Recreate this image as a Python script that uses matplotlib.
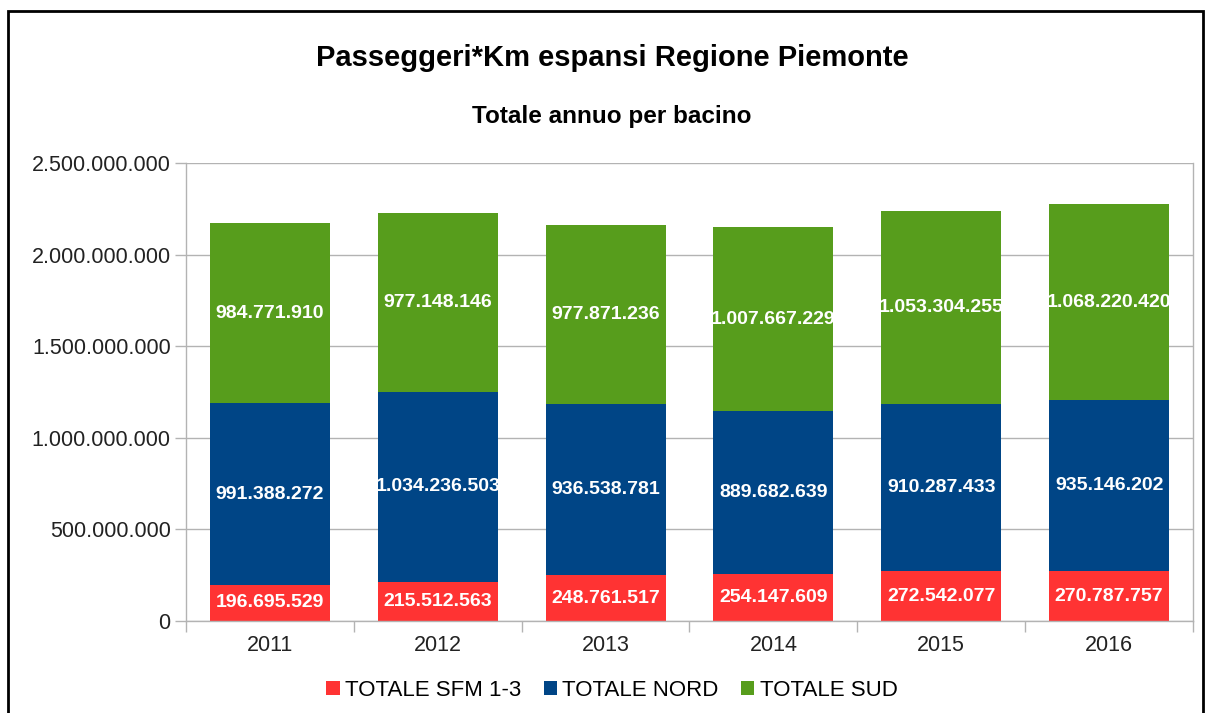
import matplotlib
matplotlib.use("Agg")
import matplotlib.pyplot as plt
from matplotlib.patches import Rectangle
import numpy as np

years = ["2011", "2012", "2013", "2014", "2015", "2016"]
sfm = [196695529, 215512563, 248761517, 254147609, 272542077, 270787757]
nord = [991388272, 1034236503, 936538781, 889682639, 910287433, 935146202]
sud = [984771910, 977148146, 977871236, 1007667229, 1053304255, 1068220420]
series_names = ["TOTALE SFM 1-3", "TOTALE NORD", "TOTALE SUD"]
colors = ["#ff3333", "#004586", "#579d1c"]
yticks = [0, 500000000, 1000000000, 1500000000, 2000000000, 2500000000]

plt.rcParams['font.family'] = ['Liberation Sans', 'DejaVu Sans']

def fmt(v):
    return f"{v:,}".replace(",", ".")

W, H = 1208, 713
fig = plt.figure(figsize=(W/100, H/100), dpi=100)
ax = fig.add_axes([186/W, 1-621/H, (1193-186)/W, (621-163)/H])

x = np.arange(len(years))
bottom = np.zeros(len(years))
for vals, name, c in zip([sfm, nord, sud], series_names, colors):
    ax.bar(x, vals, width=0.715, bottom=bottom, color=c, label=name, zorder=2)
    for xi, v, b in zip(x, vals, bottom):
        ax.text(xi, b + v/2, fmt(v), ha='center', va='center', color='white',
                fontsize=14, fontweight='bold', zorder=3)
    bottom += np.array(vals)

ax.set_xlim(-0.5, len(years)-0.5)
ax.set_ylim(0, 2500000000)
ax.set_yticks(yticks)
ax.set_yticklabels([fmt(v) for v in yticks], fontsize=15.5, color='#222222')
ax.yaxis.grid(True, color='#b3b3b3', linewidth=1, zorder=0)
ax.set_xticks(x)
ax.set_xticklabels(years, fontsize=15.5, color='#222222')
ax.tick_params(axis='x', length=0, pad=10)
ax.set_xticks(np.arange(-0.5, len(years)), minor=True)
ax.tick_params(axis='x', which='minor', length=8, color='#b3b3b3', width=1)
ax.tick_params(axis='y', length=8, color='#b3b3b3', width=1, pad=3)
ax.spines['top'].set_visible(False)
for s in ['left', 'right', 'bottom']:
    ax.spines[s].set_color('#b3b3b3')
    ax.spines[s].set_linewidth(1)

fig.text(612/W, 1-58/H, "Passeggeri*Km espansi Regione Piemonte", ha='center', va='center',
         fontsize=21, fontweight='bold')
fig.text(612/W, 1-117/H, "Totale annuo per bacino", ha='center', va='center',
         fontsize=17.5, fontweight='bold')

fig.legend(loc='center', bbox_to_anchor=(612/W, 1-690/H), ncol=3, frameon=False,
           fontsize=16, handlelength=0.6, handleheight=0.6, handletextpad=0.25,
           columnspacing=1.0)

fig.add_artist(Rectangle((8/W, -0.05), (1203-8)/W, (1-11/H)+0.05, transform=fig.transFigure,
                         fill=False, edgecolor='black', linewidth=2, clip_on=False))

fig.savefig("out.png", dpi=100)
